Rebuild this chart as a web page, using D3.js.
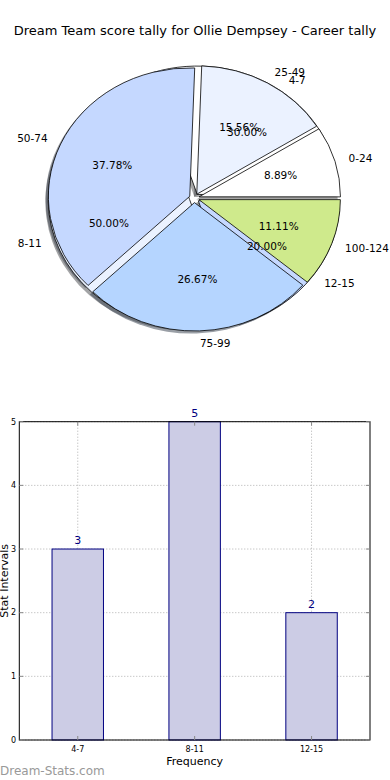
<!DOCTYPE html>
<html><head><meta charset="utf-8">
<script src="https://cdn.jsdelivr.net/npm/d3@7"></script>
<style>body{margin:0;background:#fff}svg{display:block}text{font-family:"DejaVu Sans",sans-serif}</style>
</head><body><svg id="c" width="390" height="780"></svg>
<script>
const title = "Dream Team score tally for Ollie Dempsey - Career tally";
const outerLabels = ["0-24","25-49","50-74","75-99","100-124"];
const outerValues = [4,7,17,12,5];
const innerLabels = ["4-7","8-11","12-15"];
const innerValues = [3,5,2];
const pieColors = ["#ffffff","#ebf2ff","#c5d8ff","#b5d5ff","#cfea8c"];
const barCategories = ["4-7","8-11","12-15"];
const barValues = [3,5,2];
const yTicks = [0,1,2,3,4,5];

const svg = d3.select("#c");
svg.append("text").attr("x",195).attr("y",35).attr("text-anchor","middle")
  .attr("font-size",13).text(title);

// ---- pie ----
const cx = 194.3, cy = 198.1, rx = 141.4, ry = 128.4, R = 100, ex = 0.035;
const pieGen = d3.pie().sort(null).startAngle(Math.PI/2).endAngle(Math.PI/2 - 2*Math.PI);
const arc = d3.arc().innerRadius(0).outerRadius(R);
const total = d3.sum(outerValues), totalI = d3.sum(innerValues);
function prep(labels, values, tot){
  return pieGen(values).map((d,i)=>{
    const a=(d.startAngle+d.endAngle)/2;
    const ux=Math.sin(a), uy=-Math.cos(a);
    return {d, label:labels[i], pct:(values[i]/tot*100).toFixed(2)+"%", color:pieColors[i],
      ox:cx+ex*rx*ux, oy:cy+ex*ry*uy, ux, uy};
  });
}
const back = prep(innerLabels, innerValues, totalI);
const front = prep(outerLabels, outerValues, total);
const gS = svg.append("g"), gB = svg.append("g"), gF = svg.append("g"), gT = svg.append("g");
function drawWedges(g, arr, shadowG){
  arr.forEach(w=>{
    const c = d3.rgb(w.color);
    shadowG.append("path").attr("d",arc(w.d))
      .attr("transform",`translate(${w.ox-2.8},${w.oy+2.6}) scale(${rx/R},${ry/R})`)
      .attr("fill",d3.rgb(c.r*0.3,c.g*0.3,c.b*0.3)).attr("fill-opacity",0.5).attr("stroke","none");
    g.append("path").attr("d",arc(w.d))
      .attr("transform",`translate(${w.ox},${w.oy}) scale(${rx/R},${ry/R})`)
      .attr("fill",w.color).attr("stroke","#000").attr("stroke-width",0.8)
      .attr("vector-effect","non-scaling-stroke").attr("stroke-linejoin","round");
  });
}
drawWedges(gB, back, gS);
drawWedges(gF, front, gS);
function drawTexts(arr){
  arr.forEach(w=>{
    const lx = w.ox + 1.1*rx*w.ux, ly = w.oy + 1.1*ry*w.uy;
    gT.append("text").attr("x",lx).attr("y",ly).attr("dy","0.35em")
      .attr("text-anchor", w.ux>0?"start":"end").attr("font-size",10.5).text(w.label);
    gT.append("text").attr("x",w.ox+0.6*rx*w.ux).attr("y",w.oy+0.6*ry*w.uy).attr("dy","0.35em")
      .attr("text-anchor","middle").attr("font-size",10.5).text(w.pct);
  });
}
drawTexts(front);
drawTexts(back);

// ---- bar chart ----
const L=19.3, Rr=370, T=421.7, B=740;
const x = d3.scaleLinear().domain([-0.5,2.5]).range([L,Rr]);
const y = d3.scaleLinear().domain([0,5]).range([B,T]);
const bw = 0.44;
const gb = svg.append("g");
// grid
gb.selectAll(".gy").data(yTicks).join("line").attr("x1",L).attr("x2",Rr)
  .attr("y1",d=>y(d)).attr("y2",d=>y(d)).attr("stroke","#b0b0b0").attr("stroke-width",1).attr("stroke-dasharray","1,2");
gb.selectAll(".gx").data(barCategories).join("line").attr("x1",(d,i)=>x(i)).attr("x2",(d,i)=>x(i))
  .attr("y1",T).attr("y2",B).attr("stroke","#b0b0b0").attr("stroke-width",1).attr("stroke-dasharray","1,2");
// bars
gb.selectAll(".bar").data(barValues).join("rect")
  .attr("x",(d,i)=>x(i-bw/2)).attr("width",x(bw)-x(0)).attr("y",d=>y(d)).attr("height",d=>B-y(d))
  .attr("fill","#ccccE5").attr("stroke","#000080").attr("stroke-width",1);
gb.selectAll(".vl").data(barValues).join("text")
  .attr("x",(d,i)=>x(i)).attr("y",d=>y(d)-5).attr("text-anchor","middle")
  .attr("font-size",11).attr("fill","#000080").text(d=>d);
// frame
gb.append("rect").attr("x",L).attr("y",T).attr("width",Rr-L).attr("height",B-T)
  .attr("fill","none").attr("stroke","#000").attr("stroke-width",1);
// ticks
yTicks.forEach(t=>{
  gb.append("line").attr("x1",L).attr("x2",L+4).attr("y1",y(t)).attr("y2",y(t)).attr("stroke","#888");
  gb.append("line").attr("x1",Rr-4).attr("x2",Rr).attr("y1",y(t)).attr("y2",y(t)).attr("stroke","#888");
  gb.append("text").attr("x",16).attr("y",y(t)).attr("dy","0.35em").attr("text-anchor","end")
    .attr("font-size",8).text(t);
});
barCategories.forEach((c,i)=>{
  gb.append("line").attr("x1",x(i)).attr("x2",x(i)).attr("y1",B).attr("y2",B-4).attr("stroke","#888");
  gb.append("line").attr("x1",x(i)).attr("x2",x(i)).attr("y1",T).attr("y2",T+4).attr("stroke","#888");
  gb.append("text").attr("x",x(i)).attr("y",749).attr("dy","0.35em").attr("text-anchor","middle")
    .attr("font-size",8).text(c);
});
gb.append("text").attr("x",(L+Rr)/2).attr("y",761).attr("dy","0.35em").attr("text-anchor","middle")
  .attr("font-size",11).text("Frequency");
gb.append("text").attr("transform",`translate(4,${(T+B)/2}) rotate(-90)`).attr("dy","0.35em")
  .attr("text-anchor","middle").attr("font-size",11).text("Stat Intervals");
svg.append("text").attr("x",0).attr("y",775).attr("font-size",12).attr("fill","#999")
  .text("Dream-Stats.com");
</script></body></html>
